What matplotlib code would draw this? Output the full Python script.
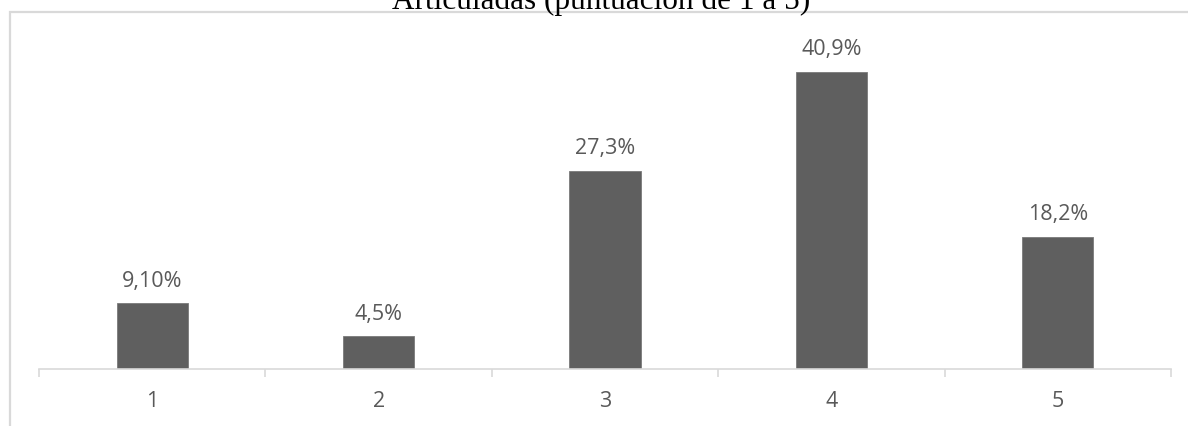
import matplotlib
matplotlib.use("Agg")
import matplotlib.pyplot as plt
from matplotlib.patches import Rectangle

categories = ["1", "2", "3", "4", "5"]
values = [9.1, 4.5, 27.3, 40.9, 18.2]
labels = ["9,10%", "4,5%", "27,3%", "40,9%", "18,2%"]
title = "Articuladas (puntuación de 1 a 5)"

W, H = 1188, 427
fig = plt.figure(figsize=(W / 100, H / 100), dpi=100)

# outer chart border (extends beyond the right/bottom edges)
fig.patches.append(Rectangle((10 / W, -0.2), 1.5, 1.2 - 13 / H,
                             transform=fig.transFigure, fill=False,
                             edgecolor="#d9d9d9", linewidth=1.6, zorder=0))

ax = fig.add_axes([39 / W, 1 - 370 / H, (1171 - 39) / W, (370 - 22) / H])
x = list(range(len(categories)))
ax.bar(x, values, width=0.314, color="#5f5f5f", edgecolor="#7a7a7a", linewidth=0.6, zorder=2)
ax.set_xlim(-0.5, len(categories) - 0.5)
ax.set_ylim(0, 47.9)

for xi, v, lab in zip(x, values, labels):
    ax.annotate(lab, (xi, v), xytext=(0, 12.5), textcoords="offset points",
                ha="center", va="baseline", fontsize=15.5, color="#595959",
                family="Open Sans")

for s in ["top", "left", "right"]:
    ax.spines[s].set_visible(False)
ax.spines["bottom"].set_color("#d9d9d9")
ax.spines["bottom"].set_linewidth(1.2)
ax.set_yticks([])
ax.set_xticks(x)
ax.set_xticklabels(categories, fontsize=15.5, color="#595959", family="Open Sans")
ax.set_xticks([i - 0.5 for i in range(len(categories) + 1)], minor=True)
ax.tick_params(axis="x", which="major", length=0, pad=15)
ax.tick_params(axis="x", which="minor", length=6, width=1.2, color="#d9d9d9")

fig.text(601 / W, 1 - 9 / H, title, ha="center", va="baseline",
         fontsize=22.5, family="Liberation Serif", color="black")

fig.savefig("out.png", dpi=100)
